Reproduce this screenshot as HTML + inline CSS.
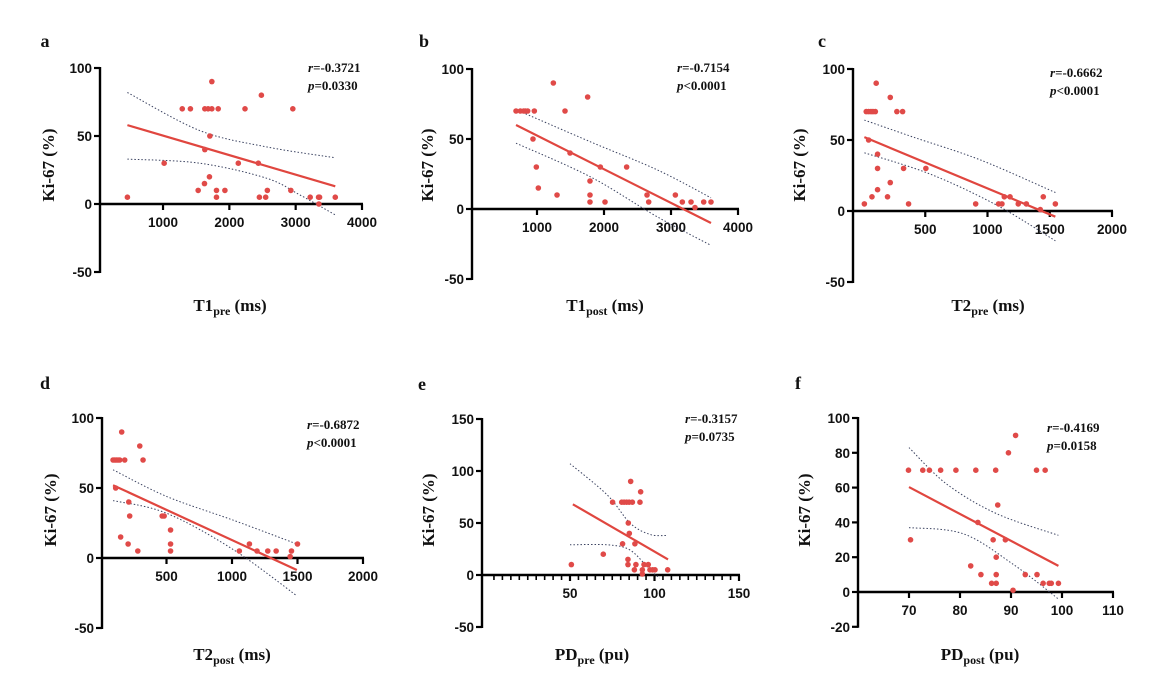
<!DOCTYPE html>
<html><head><meta charset="utf-8">
<style>
html,body{margin:0;padding:0;background:#fff;}
svg{display:block;}
.tick{font-family:"Liberation Sans",Arial,sans-serif;font-weight:bold;font-size:13.5px;fill:#111;}
.ser{font-family:"Liberation Serif",serif;font-weight:bold;fill:#111;}
</style></head>
<body>
<svg id="fig" width="1164" height="684" viewBox="0 0 1164 684" xmlns="http://www.w3.org/2000/svg"></svg>
<script>
// ---- data arrays ----
const aX=[463,1017,1290,1413,1630,1680,1736,1736,1706,1630,1530,1625,1700,1806,1806,1832,1933,2135,2236,2437,2453,2483,2548,2573,2927,2957,3219,3345,3360,3350,3597];
const aY=[5,30,70,70,70,70,70,90,50,40,10,15,20,10,5,70,10,30,70,30,5,80,5,10,10,70,5,5,5,0,5];
const aFit=[[463,3597],[58,13]];
const aUp=[[463,1555,2560,3597],[82,54,42,34]];
const aLo=[[463,1555,2560,3065,3597],[33,30,19,6.6,-8]];

const bX=[687,751,801,826,861,960,940,990,1020,1244,1299,1418,1493,1756,1791,1791,1791,1945,2015,2338,2642,2667,3065,3169,3299,3358,3488,3597];
const bY=[70,70,70,70,70,70,50,30,15,90,10,70,40,80,20,10,5,30,5,30,10,5,10,5,5,1,5,5];
const bFit=[[687,3597],[60,-10]];
const bUp=[[687,1797,2792,3597],[71,48,28,8]];
const bLo=[[687,1797,2792,3597],[47,23,-5.5,-26]];

const cX=[11,26,45,64,80,99,106,45,72,117,117,117,197,219,219,272,318,326,366,505,905,1089,1116,1135,1181,1247,1312,1424,1448,1545];
const cY=[5,70,70,70,70,70,90,50,10,40,30,15,10,20,80,70,70,30,5,30,5,5,5,10,10,5,5,1,10,5];
const cFit=[[11,1545],[52,-4]];
const cUp=[[11,406,942,1545],[64,52,36,13]];
const cLo=[[11,540,1076,1545],[41,26,4,-21]];

const dX=[92,105,117,130,143,181,112,158,150,212,219,207,281,296,321,467,482,531,531,531,1056,1133,1191,1273,1337,1444,1454,1500];
const dY=[70,70,70,70,70,70,50,90,15,40,30,10,5,80,70,30,30,20,10,5,5,10,5,5,5,1,5,10];
const dFit=[[92,1495],[52,-8.6]];
const dUp=[[92,500,1010,1495],[63,44,27,10]];
const dLo=[[92,500,1010,1495],[41,32,6,-27]];

const eX=[50.8,69.7,75.2,80.6,82,83.5,85,86.9,91.4,85.9,91.8,84.5,85.1,81.1,88.4,84.3,84.3,89,88.1,92.8,93.8,96.3,97.3,98.9,100.3,92.8,107.8];
const eY=[10,20,70,70,70,70,70,70,70,90,80,50,40,30,30,15,10,10,5,5,10,10,5,5,5,1,5];
const eFit=[[51.7,108],[68,15]];
const eUp=[[50,72,85.5,97.3,107.2],[107,77,50,39,38]];
const eLo=[[50,72,85.5,97.3,103],[29,29,24,5,-3]];

const fX=[69.9,72.7,74,76.2,79.2,83.1,87,95,96.7,70.3,82.1,84.1,83.5,86.2,86.5,87.1,87.1,87.1,87.4,88.9,89.5,90.4,90.9,92.8,95.1,96.3,97.5,97.9,99.3];
const fY=[70,70,70,70,70,70,70,70,70,30,15,10,40,5,30,20,10,5,50,30,80,1,90,10,10,5,5,5,5];
const fFit=[[70,99.3],[60.3,15]];
const fUp=[[70,77.4,87.2,99.3],[83,62,45,32.6]];
const fLo=[[70,80.6,90.4,99.3],[37,33.5,16,-4]];

const aTicksX=[1000,2000,3000,4000], aTicksY=[-50,0,50,100];
const bTicksX=[1000,2000,3000,4000], bTicksY=[-50,0,50,100];
const cTicksX=[500,1000,1500,2000], cTicksY=[-50,0,50,100];
const dTicksX=[500,1000,1500,2000], dTicksY=[-50,0,50,100];
const eTicksX=[50,100,150], eTicksY=[-50,0,50,100,150];
const fTicksX=[70,80,90,100,110], fTicksY=[-20,0,20,40,60,80,100];

// ---- layout (pixel geometry) ----
const panels=[
 {id:'a',X:aX,Y:aY,fit:aFit,up:aUp,lo:aLo,tx:aTicksX,ty:aTicksY,
  ax:[0,4000,96.7,362],ay:[0,100,204,68],axisX:100,xEnd:362,
  label:[45,47],r:'-0.3721',p:'=0.0330',st:[308,72],
  tt:['T1','pre'],ttPos:[230,311],ytPos:[54,165]},
 {id:'b',X:bX,Y:bY,fit:bFit,up:bUp,lo:bLo,tx:bTicksX,ty:bTicksY,
  ax:[0,4000,470,738],ay:[0,100,209,69],axisX:472,xEnd:738,
  label:[424,47],r:'-0.7154',p:'<0.0001',st:[677,72],
  tt:['T1','post'],ttPos:[605,311],ytPos:[433,165]},
 {id:'c',X:cX,Y:cY,fit:cFit,up:cUp,lo:cLo,tx:cTicksX,ty:cTicksY,
  ax:[0,2000,863,1112],ay:[0,100,211,69],axisX:853,xEnd:1112,
  label:[822,47],r:'-0.6662',p:'<0.0001',st:[1050,77],
  tt:['T2','pre'],ttPos:[988,311],ytPos:[805,165]},
 {id:'d',X:dX,Y:dY,fit:dFit,up:dUp,lo:dLo,tx:dTicksX,ty:dTicksY,
  ax:[0,2000,101,363],ay:[0,100,558,418],axisX:102,xEnd:363,
  label:[45,389],r:'-0.6872',p:'<0.0001',st:[307,429],
  tt:['T2','post'],ttPos:[232,660],ytPos:[56,510]},
 {id:'e',X:eX,Y:eY,fit:eFit,up:eUp,lo:eLo,tx:eTicksX,ty:eTicksY,
  ax:[0,150,485.5,739],ay:[0,150,575,419],axisX:482,xEnd:739,minor:5,
  label:[422,390],r:'-0.3157',p:'=0.0735',st:[685,423],
  tt:['PD','pre'],ttPos:[592,660],ytPos:[434,510]},
 {id:'f',X:fX,Y:fY,fit:fFit,up:fUp,lo:fLo,tx:fTicksX,ty:fTicksY,
  ax:[60,110,858,1113],ay:[0,100,592,418],axisX:858,xEnd:1113,
  label:[798,389],r:'-0.4169',p:'=0.0158',st:[1047,432],
  tt:['PD','post'],ttPos:[980,660],ytPos:[810,510]}
];

const NS='http://www.w3.org/2000/svg';
const svg=document.getElementById('fig');
function mk(tag,attrs,parent){const e=document.createElementNS(NS,tag);for(const k in attrs)e.setAttribute(k,attrs[k]);(parent||svg).appendChild(e);return e;}

panels.forEach(P=>{
  const g=mk('g',{});
  
  
  const sx=v=>P.ax[2]+(v-P.ax[0])*(P.ax[3]-P.ax[2])/(P.ax[1]-P.ax[0]);
  const sy=v=>P.ay[2]+(v-P.ay[0])*(P.ay[3]-P.ay[2])/(P.ay[1]-P.ay[0]);
  const yMin=Math.min(...P.ty), yMax=Math.max(...P.ty);
  const y0=sy(0);
  const ya=mk('line',{x1:P.axisX,x2:P.axisX,y1:sy(yMin)+1,y2:sy(yMax)-1,stroke:'#000','stroke-width':2.4},g);
  
  
  P.ty.forEach(t=>{
    mk('line',{x1:P.axisX-6,x2:P.axisX,y1:sy(t),y2:sy(t),stroke:'#000','stroke-width':2.2},g);
    const tl=mk('text',{x:P.axisX-8,y:sy(t)+5,'text-anchor':'end',class:'tick'},g);
    tl.textContent=t;
    
    
  });
  const xa=mk('line',{x1:P.axisX,x2:P.xEnd+1,y1:y0,y2:y0,stroke:'#000','stroke-width':2.4},g);
  
  
  if(P.minor){
    for(let v=P.minor;v<=P.ax[1];v+=P.minor){
      mk('line',{x1:sx(v),x2:sx(v),y1:y0,y2:y0+5,stroke:'#000','stroke-width':1.6},g);
    }
  }
  P.tx.forEach(t=>{
    mk('line',{x1:sx(t),x2:sx(t),y1:y0,y2:y0+6,stroke:'#000','stroke-width':2.2},g);
    const tl=mk('text',{x:sx(t),y:y0+23,'text-anchor':'middle',class:'tick'},g);
    tl.textContent=t;
    
    
  });
  [[P.up,'upper'],[P.lo,'lower']].forEach(([b,nm])=>{
    const p=b[0].map((x,i)=>[sx(x),sy(b[1][i])]);
    let d='M'+p[0][0].toFixed(1)+','+p[0][1].toFixed(1);
    for(let i=0;i<p.length-1;i++){
      const p0=p[i-1]||p[i],p1=p[i],p2=p[i+1],p3=p[i+2]||p2;
      const c1=[p1[0]+(p2[0]-p0[0])/6,p1[1]+(p2[1]-p0[1])/6];
      const c2=[p2[0]-(p3[0]-p1[0])/6,p2[1]-(p3[1]-p1[1])/6];
      d+=` C${c1[0].toFixed(1)},${c1[1].toFixed(1)} ${c2[0].toFixed(1)},${c2[1].toFixed(1)} ${p2[0].toFixed(1)},${p2[1].toFixed(1)}`;
    }
    const pa=mk('path',{d:d,fill:'none',stroke:'#3a4260','stroke-width':1,'stroke-dasharray':'1.5,2'},g);
    
    
  });
  const fl=mk('line',{x1:sx(P.fit[0][0]),y1:sy(P.fit[1][0]),x2:sx(P.fit[0][1]),y2:sy(P.fit[1][1]),stroke:'#e0463f','stroke-width':2.2},g);
  
  
  P.X.forEach((x,i)=>{
    const c=mk('circle',{cx:sx(x),cy:sy(P.Y[i]),r:2.8,fill:'#e04a48'},g);
    
    
  });
  const lb=mk('text',{x:P.label[0],y:P.label[1],class:'ser','font-size':18,'text-anchor':'middle'},g);
  lb.textContent=P.id;
  
  
  const r=mk('text',{x:P.st[0],y:P.st[1],class:'ser','font-size':13},g);
  r.innerHTML='<tspan font-style="italic">r</tspan>='+P.r;
  
  
  const pv=mk('text',{x:P.st[0],y:P.st[1]+18,class:'ser','font-size':13},g);
  pv.innerHTML='<tspan font-style="italic">p</tspan>'+P.p;
  
  
  const yt=mk('text',{x:0,y:0,class:'ser','font-size':17,'text-anchor':'middle',transform:`translate(${P.ytPos[0]},${P.ytPos[1]}) rotate(-90)`},g);
  yt.textContent='Ki-67 (%)';
  
  
  const unit=(P.id==='e'||P.id==='f')?' (pu)':' (ms)';
  const xt=mk('text',{x:P.ttPos[0],y:P.ttPos[1],class:'ser','font-size':17,'text-anchor':'middle'},g);
  xt.innerHTML=P.tt[0]+'<tspan font-size="12" dy="4">'+P.tt[1]+'</tspan><tspan dy="-4">'+unit+'</tspan>';
  
  
});
</script>
</body></html>
